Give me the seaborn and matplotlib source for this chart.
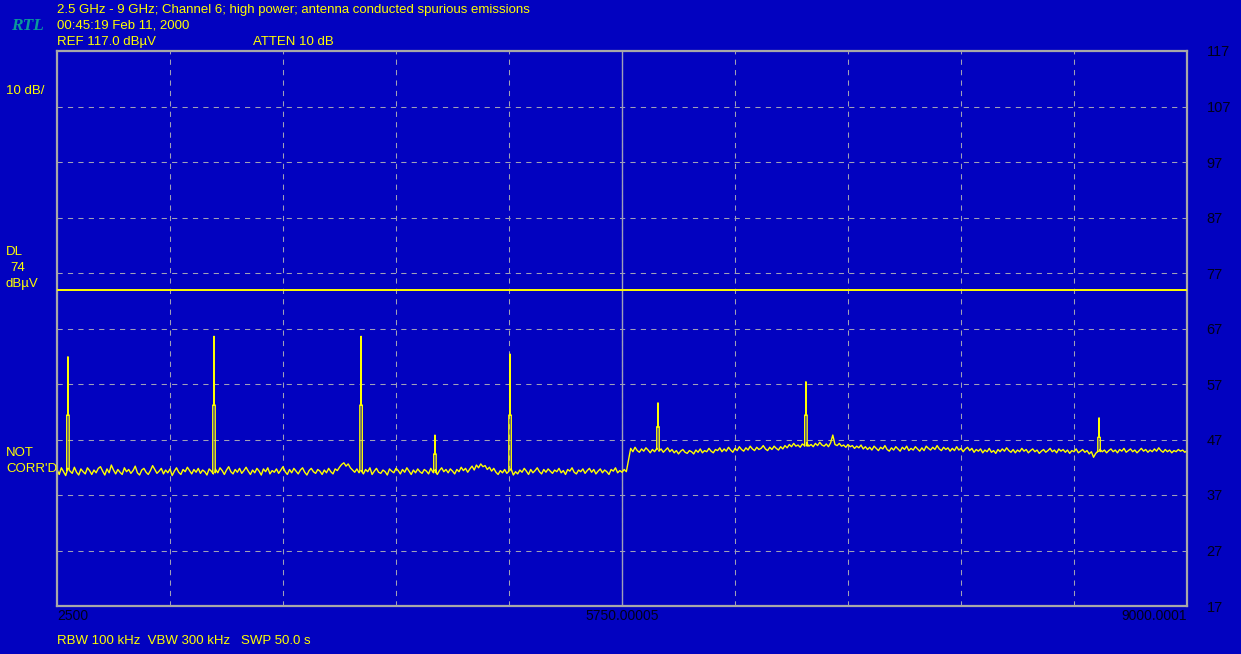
import numpy as np
import pandas as pd
import matplotlib
matplotlib.use("Agg")
import matplotlib.pyplot as plt
import seaborn as sns

# ---------------- data ----------------
freq_min, freq_max, freq_center = 2500, 9000, 5750
ref_level, bottom_level = 117, 17
dl_level = 74

# noise floor below 5.75 GHz (dBuV), left part of the sweep
left_floor = [
    41.6, 40.7, 41.9, 41.2, 40.5, 41.8, 41.3, 40.9, 42.0, 41.1,
    40.6, 41.7, 41.2, 40.8, 41.9, 41.4, 40.7, 41.5, 41.0, 41.8,
    42.1, 41.3, 40.6, 41.7, 41.0, 42.4, 41.5, 40.8, 41.6, 41.1,
    40.7, 41.9, 41.2, 41.6, 40.9, 41.4, 42.2, 41.0, 40.6, 41.5,
    41.8, 41.1, 40.7, 41.4, 42.3, 41.6, 40.9, 41.3, 41.8, 40.8,
    41.5, 41.0, 41.7, 40.5, 41.3, 41.9, 41.1, 40.7, 41.6, 41.2,
    42.0, 41.4, 40.8, 41.6, 41.1, 41.8, 40.9, 41.5, 41.2, 40.6,
    41.7, 41.3, 40.8, 41.6, 41.0, 41.9, 41.4, 40.7, 41.5, 42.1,
    41.2, 40.8, 41.6, 41.1, 41.8, 40.9, 41.4, 42.0, 41.3, 40.7,
    41.5, 41.0, 41.8, 41.3, 40.6, 41.7, 41.2, 41.9, 40.8, 41.4,
    41.1, 41.7, 40.9, 41.5, 42.1, 41.2, 40.7, 41.6, 41.0, 41.8,
    41.3, 40.8, 41.5, 41.9, 41.1, 40.6, 41.4, 41.8, 41.2, 40.9,
    41.6, 41.3, 40.7, 41.5, 41.0, 41.8, 41.2, 40.8, 41.7, 41.4,
    42.0, 42.5, 42.8, 42.2, 42.6, 41.9, 41.5, 41.1, 41.7, 41.0,
    41.4, 40.8, 41.6, 41.2, 41.9, 40.7, 41.3, 41.8, 41.1, 40.9,
    41.5, 41.2, 40.6, 41.7, 41.3, 41.0, 41.8, 41.4, 40.8, 41.6,
    41.1, 41.9, 41.3, 40.7, 41.5, 41.0, 41.7, 41.2, 40.9, 41.6,
    41.3, 40.8, 41.8, 41.1, 41.5, 40.7, 41.4, 41.9, 41.2, 41.6,
    41.0, 41.7, 41.3, 40.8, 41.6, 41.2, 42.0, 41.4, 41.8, 41.1,
    41.7, 42.2, 41.5, 42.4, 41.9, 42.6, 42.1, 42.3, 41.6, 42.0,
    41.3, 41.8, 41.1, 40.7, 41.4, 41.0, 41.6, 40.9, 41.3, 41.7,
    40.6, 41.2, 40.8, 41.5, 41.1, 41.8, 41.3, 40.7, 41.6, 41.0,
    41.4, 41.9, 41.2, 40.8, 41.6, 41.1, 41.7, 41.3, 40.9, 41.5,
    41.2, 41.8, 41.0, 41.4, 40.7, 41.6, 41.3, 41.9, 41.1, 40.8,
    41.5, 41.2, 41.7, 40.9, 41.4, 41.8, 41.1, 41.6, 40.8, 41.3,
    41.7, 41.0, 41.5, 41.2, 40.7, 41.6, 41.3, 41.9, 41.0, 41.4,
    41.1, 41.6, 41.2,
]
# noise floor above 5.75 GHz (dBuV), right part of the sweep
right_floor = [
    45.4, 44.8, 45.6, 45.0, 44.7, 45.3, 44.9, 45.5, 45.1, 44.6,
    45.2, 44.8, 45.4, 44.9, 45.3, 44.7, 45.1, 45.5, 44.8, 45.2,
    44.6, 45.0, 44.4, 44.9, 45.2, 44.7, 44.5, 45.0, 44.8, 44.4,
    45.1, 44.7, 45.3, 44.6, 45.0, 44.8, 45.4, 44.9, 44.6, 45.2,
    45.0, 45.5, 44.8, 45.3, 44.9, 45.6, 45.1, 44.7, 45.4, 45.0,
    45.7, 45.2, 44.9, 45.5, 45.1, 45.8, 45.3, 45.0, 45.6, 45.2,
    45.4, 45.9, 45.3, 45.0, 45.6, 45.2, 45.8, 45.4, 45.1, 45.7,
    45.3, 45.9, 45.5, 46.1, 45.7, 46.3, 45.8, 46.0, 45.6, 46.2,
    45.9, 46.4, 45.8, 46.1, 45.7, 46.3, 45.9, 46.5, 46.0, 45.8,
    46.2, 45.7, 46.4, 47.8, 46.1, 45.9, 46.3, 45.8, 46.0, 45.6,
    46.1, 45.7, 45.9, 45.4, 45.8, 45.5, 46.0, 45.3, 45.7, 45.2,
    45.6, 45.1, 45.8, 45.4, 45.0, 45.6, 45.3, 45.9, 45.2, 44.9,
    45.5, 45.1, 45.7, 45.3, 44.9, 45.6, 45.2, 45.8, 45.0, 45.4,
    45.1, 45.7, 45.3, 44.9, 45.5, 45.0, 45.8, 45.4, 45.1, 45.6,
    45.2, 45.9, 45.3, 45.0, 45.6, 45.2, 45.5, 44.9, 45.4, 45.0,
    45.7, 45.1, 45.4, 44.8, 45.3, 45.6, 45.0, 45.4, 44.7, 45.2,
    44.9, 45.3, 44.6, 45.1, 44.8, 45.4, 44.7, 45.0, 44.5, 45.2,
    44.8, 45.3, 44.9, 45.5, 45.0, 44.7, 45.2, 44.6, 45.1, 44.8,
    45.4, 44.9, 45.2, 44.6, 45.0, 45.3, 44.8, 45.1, 44.5, 44.9,
    45.2, 44.7, 45.0, 45.4, 44.8, 45.1, 44.6, 45.3, 44.9, 45.2,
    44.7, 45.1, 44.5, 45.0, 44.8, 45.3, 44.6, 44.9, 45.2, 44.7,
    45.0, 44.4, 44.8, 43.8, 44.5, 44.9, 45.2, 44.8, 45.1, 44.6,
    45.0, 45.3, 44.8, 45.1, 44.6, 45.2, 44.9, 45.4, 44.7, 45.0,
    45.3, 44.8, 45.1, 44.6, 45.0, 45.4, 44.9, 45.2, 44.7, 45.1,
    44.8, 45.3, 44.9, 45.5, 45.0, 44.7, 45.2, 44.8, 45.1, 44.6,
    45.0, 44.8, 45.2, 44.9, 45.1, 44.7, 45.0,
]
left_span = [2500, 5775]
right_span = [5800, 9000]

# spurious emission spikes (MHz, dBuV)
spike_freq = [2563, 3403, 4249, 4674, 5106, 5957, 6808, 8494]
spike_peak = [61.9, 65.6, 65.6, 47.8, 62.4, 53.6, 57.4, 50.9]
spike_shoulder = [51.4, 53.2, 53.2, 44.4, 51.4, 49.3, 51.4, 47.4]
spike_base = [41.5, 41.0, 41.3, 41.0, 41.4, 45.2, 45.8, 44.8]

y_ticks = [17, 27, 37, 47, 57, 67, 77, 87, 97, 107, 117]
x_tick_labels = ["2500", "", "", "", "", "5750.00005", "", "", "", "", "9000.0001"]

header1 = "2.5 GHz - 9 GHz; Channel 6; high power; antenna conducted spurious emissions"
header2 = "00:45:19 Feb 11, 2000"
header3 = "REF 117.0 dB\u00b5V"
header_atten = "ATTEN 10 dB"
footer = "RBW 100 kHz  VBW 300 kHz   SWP 50.0 s"

# ---------------- build trace ----------------
freqs = np.concatenate([np.linspace(left_span[0], left_span[1], len(left_floor)),
                        np.linspace(right_span[0], right_span[1], len(right_floor))])
levels = list(left_floor) + list(right_floor)
spikes = sorted(zip(spike_freq, spike_peak, spike_shoulder, spike_base))
xs, ys = [], []
k = 0
half_w = 7
for f, v in zip(freqs, levels):
    while k < len(spikes) and spikes[k][0] < f:
        sf, pk, sh, bs = spikes[k]
        xs += [sf - half_w, sf - half_w, sf - 1.5, sf, sf + 1.5, sf + half_w, sf + half_w]
        ys += [bs, sh, sh, pk, sh, sh, bs]
        k += 1
    xs.append(f)
    ys.append(v)
trace = pd.DataFrame({"freq": xs, "level": ys})

# ---------------- style ----------------
BG = "#0202c0"
YEL = "#ffff00"
GRID = "#a0a0b8"
FRAME = "#a8a8a8"
sns.set_style("dark")
plt.rcParams["font.family"] = ["Liberation Sans", "DejaVu Sans"]

W, H = 1241, 654
fig = plt.figure(figsize=(W / 100, H / 100), dpi=100, facecolor=BG)
ax = fig.add_axes([57 / W, 1 - 606 / H, (1187 - 57) / W, (606 - 51) / H])
ax.set_facecolor(BG)

sns.lineplot(data=trace, x="freq", y="level", sort=False, estimator=None,
             color=YEL, lw=1.0, ax=ax)
ax.axhline(dl_level, color=YEL, lw=1.4, zorder=3)
ax.axvline(freq_center, color=GRID, lw=1.0, zorder=1)

ax.set_xlim(freq_min, freq_max)
ax.set_ylim(bottom_level, ref_level)
ax.set_xlabel("")
ax.set_ylabel("")

x_ticks = np.linspace(freq_min, freq_max, len(x_tick_labels))
ax.set_xticks(x_ticks)
ax.set_xticklabels(x_tick_labels, fontsize=10, color="#00001a")
xl = ax.get_xticklabels()
xl[0].set_ha("left")
xl[-1].set_ha("right")
ax.set_yticks(y_ticks)
ax.set_yticklabels([str(t) for t in y_ticks], fontsize=10.5, color="#00001a")
ax.yaxis.tick_right()
ax.tick_params(axis="y", length=0, pad=14)
ax.tick_params(axis="x", length=0, pad=2)
ax.grid(True, color=GRID, lw=0.75, linestyle=(0, (5, 5)))
for s in ax.spines.values():
    s.set_visible(True)
    s.set_color(FRAME)
    s.set_linewidth(1.6)

def ftxt(x, y, s, **kw):
    fig.text(x / W, 1 - y / H, s, va="center", **kw)

hs = 9.5
ftxt(57, 10, header1, color=YEL, fontsize=hs)
ftxt(57, 26, header2, color=YEL, fontsize=hs)
ftxt(57, 42, header3, color=YEL, fontsize=hs)
ftxt(253, 42, header_atten, color=YEL, fontsize=hs)
ftxt(11, 26, "RTL", color="#0a9a9a", fontsize=12.5, family="Liberation Serif",
     style="italic", weight="bold")
ftxt(6, 91, "10 dB/", color=YEL, fontsize=hs)
ftxt(6, 252, "DL", color=YEL, fontsize=hs)
ftxt(10, 268, str(dl_level), color=YEL, fontsize=hs)
ftxt(6, 284, "dB\u00b5V", color=YEL, fontsize=hs)
ftxt(6, 453, "NOT", color=YEL, fontsize=hs)
ftxt(6, 469, "CORR'D", color=YEL, fontsize=hs)
ftxt(57, 641, footer, color=YEL, fontsize=hs)

fig.savefig("out.png", dpi=100, facecolor=BG)
